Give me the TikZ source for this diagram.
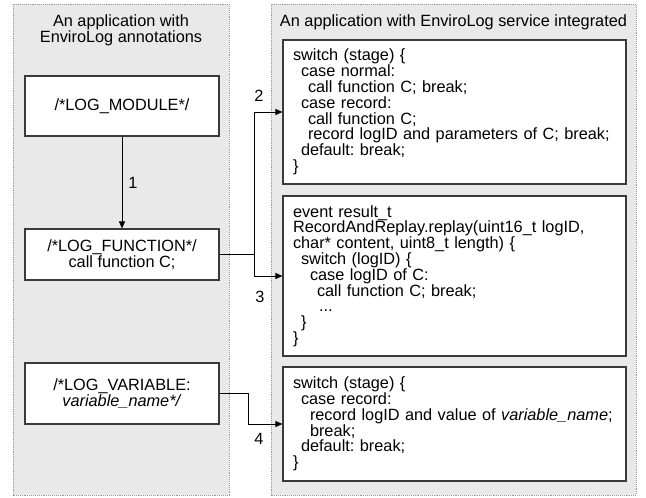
\documentclass[tikz,border=0pt]{standalone}
\usepackage{fontspec}
\setmainfont{Liberation Sans}
\usetikzlibrary{arrows.meta}
\frenchspacing
\definecolor{panelfill}{HTML}{E9E9E9}
\definecolor{panelline}{HTML}{9A9A9A}
\definecolor{boxline}{HTML}{3A3A3A}
\newcommand{\ind}[1]{\hspace*{#1}}
\tikzset{
  panel/.style={draw=panelline, fill=panelfill, densely dotted, line width=0.9pt},
  annbox/.style={draw=boxline, fill=white, line width=1.1pt, minimum width=194pt, align=center, inner sep=0pt},
  codebox/.style={draw=boxline, fill=white, line width=1.1pt, text width=323pt, inner xsep=10pt, inner ysep=0pt, align=left},
  conn/.style={draw=black, line width=0.8pt},
  arr/.style={conn, -{Triangle[length=7pt,width=6pt]}},
  lbl/.style={inner sep=0pt},
  txt/.style={font=\fontsize{16.3}{15.8}\selectfont\frenchspacing},
}
\begin{document}
\begin{tikzpicture}[x=1pt,y=-1pt,txt]
\useasboundingbox (0,0) rectangle (646,498);
% panels
\path[panel] (13,4) rectangle (229,495);
\path[panel] (271,4) rectangle (636,495);
% titles
\node[lbl, align=center] (ltitle) at (121,30) {An application with\\EnviroLog annotations};
\node[lbl] (rtitle) at (453.5,22) {An application with EnviroLog service integrated};
% left boxes
\node[annbox, minimum height=60pt] (mod) at (122,106) {/*LOG\_MODULE*/};
\node[annbox, minimum height=51pt] (fn) at (122,254.5) {/*LOG\_FUNCTION*/\\call function C;};
\node[annbox, minimum height=61pt] (var) at (122,393.5) {/*LOG\_VARIABLE:\\\textit{variable\_name*/}};
% right boxes
\node[codebox, minimum height=144pt] (b1) at (454.5,112) {%
switch (stage) \{\\
\ind{8pt}case normal:\\
\ind{15pt}call function C; break;\\
\ind{8pt}case record:\\
\ind{15pt}call function C;\\
\ind{15pt}record logID and parameters of C; break;\\
\ind{8pt}default: break;\\
\}};
\node[codebox, minimum height=160pt] (b2) at (454.5,276) {%
event result\_t\\
RecordAndReplay.replay(uint16\_t logID,\\
char* content, uint8\_t length) \{\\
\ind{8pt}switch (logID) \{\\
\ind{17pt}case logID of C:\\
\ind{24pt}call function C; break;\\
\ind{26pt}...\\
\ind{8pt}\}\\
\}};
\node[codebox, minimum height=114pt] (b3) at (454.5,424) {%
switch (stage) \{\\
\ind{8pt}case record:\\
\ind{17pt}record logID and value of \textit{variable\_name};\\
\ind{17pt}break;\\
\ind{8pt}default: break;\\
\}};
% connectors
\draw[arr] (mod) -- (fn);
\node[lbl] (l1) at (133,183) {1};
\coordinate (j) at (254,254.5);
\draw[conn] (fn.east) -- (j);
\draw[arr] (j) |- (b1.west);
\draw[arr] (j) |- (b2.west);
\node[lbl] (l2) at (259,96) {2};
\node[lbl] (l3) at (260,297) {3};
\coordinate (k) at (248,0);
\draw[arr] (var.east) -- (var.east -| k) |- (b3.west);
\node[lbl] (l4) at (259,439) {4};
\end{tikzpicture}
\end{document}
